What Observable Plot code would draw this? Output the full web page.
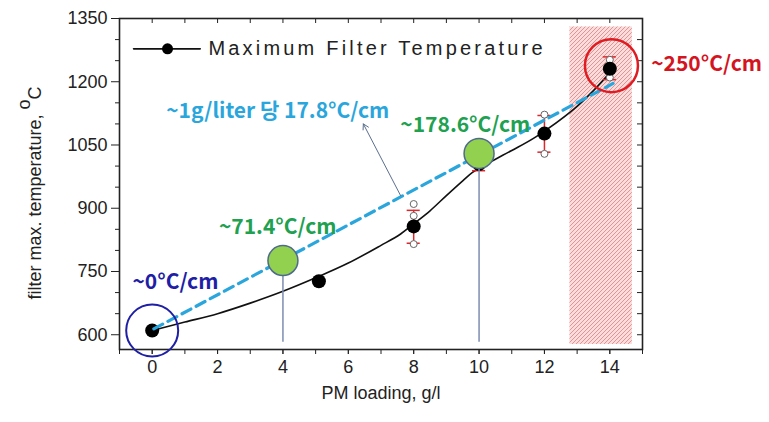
<!DOCTYPE html>
<html><head><meta charset="utf-8">
<script src="https://cdn.jsdelivr.net/npm/d3@7"></script>
<script src="https://cdn.jsdelivr.net/npm/@observablehq/plot@0.6"></script>
<style>body{margin:0;background:#fff}</style>
</head><body><div id="chart"></div>
<script>
// ---- data ----
const xTicks = [0, 2, 4, 6, 8, 10, 12, 14];
const yTicks = [600, 750, 900, 1050, 1200, 1350];

const pmLoading = [0, 5.1, 8, 10, 12, 14];
const maxTemp   = [610, 727, 857, 1005, 1077, 1231];

const errX    = [8, 10, 12, 14];
const errLow  = [817, 989, 1033, 1205];
const errHigh = [895, 1025, 1120, 1259];

const openX = [8, 8, 8, 12, 12, 14, 14];
const openY = [910, 882, 815, 1122, 1029, 1252, 1210];

const fitX = [0, 1, 2, 3, 4, 5, 6, 7, 7.6, 8, 8.5, 9, 9.5, 9.8, 10.4, 11, 11.75, 12.9, 13.5, 14.1];
const fitY = [610, 630, 650, 675, 703, 735, 770, 812, 839, 863, 894, 930, 965, 985, 1012, 1037, 1070, 1135, 1179, 1230];

const trendX = [0.05, 14.1];
const trendY = [614, 1196];

const rateX = [4, 10];
const rateY = [776, 1030];
const rateBase = 582;

const hatchX = [12.78, 14.69];
const hatchY = [577, 1330];

const labelText = ["~0°C/cm", "~71.4°C/cm", "~178.6°C/cm", "~1g/liter 당 17.8°C/cm", "~250°C/cm"];
const labelX = [0.71, 3.84, 9.58, 3.84, 16.96];
const labelY = [725, 855, 1096, 1131, 1242];
const labelColor = ["#1f1fa6", "#20a14f", "#20a14f", "#2aa6dc", "#d4141e"];

const arrowFrom = [7.6, 930];
const arrowTo = [6.46, 1100];

const legendLineX = [-0.57, 1.47];
const legendDotX = 0.47;
const legendY = 1278;
const legendTextX = 1.72;

// ---- layout ----
const W = 769, H = 422, mL = 119, mR = 127, mT = 18, mB = 73;
const plotW = W - mL - mR, plotH = H - mT - mB;

const points = pmLoading.map((x, i) => ({x, y: maxTemp[i]}));
const errs = errX.map((x, i) => ({x, lo: errLow[i], hi: errHigh[i]}));
const caps = errs.flatMap(d => [{x: d.x, y: d.lo}, {x: d.x, y: d.hi}]);
const opens = openX.map((x, i) => ({x, y: openY[i]}));
const fit = fitX.map((x, i) => ({x, y: fitY[i]}));
const trend = trendX.map((x, i) => ({x, y: trendY[i]}));
const rates = rateX.map((x, i) => ({x, y: rateY[i]}));
const labels = labelText.map((t, i) => ({t, x: labelX[i], y: labelY[i], c: labelColor[i]}));
const xMinor = d3.range(-1, 16, 1);
const yMinorAll = d3.range(600, 1351, 50);
const yMinor = yMinorAll.filter(v => !yTicks.includes(v));

const chart = Plot.plot({
  width: W, height: H,
  marginLeft: mL, marginRight: mR, marginTop: mT, marginBottom: mB,
  style: {fontFamily: "'Liberation Sans', Arial, sans-serif", fontSize: "18px", background: "white", color: "#222"},
  x: {domain: [-1, 15]},
  y: {domain: [565, 1350]},
  marks: [
    Plot.rect([0], {x1: hatchX[0], x2: hatchX[1], y1: hatchY[0], y2: hatchY[1], fill: "url(#hatch)"}),
    Plot.axisX({ticks: xTicks, tickSize: 5, tickPadding: 6, label: null, tickFormat: "d"}),
    Plot.tickX(xMinor, {x: d => d, insetTop: plotH, insetBottom: -5}),
    Plot.tickX(xMinor, {x: d => d, insetBottom: plotH - 5}),
    Plot.axisY({ticks: yTicks, tickSize: 8, tickPadding: 4, label: null, tickFormat: "d"}),
    Plot.tickY(yMinor, {y: d => d, insetRight: plotW, insetLeft: -4}),
    Plot.tickY(yMinorAll, {y: d => d, insetLeft: plotW - 5}),
    Plot.frame({strokeWidth: 1.6}),
    Plot.text(["PM loading, g/l"], {frameAnchor: "bottom", dy: 49, fontSize: 18, fill: "#222"}),
    Plot.text(["filter max. temperature, "], {frameAnchor: "left", textAnchor: "middle", dx: -84, dy: 9, rotate: -90, fontSize: 18, fill: "#222"}),
    // fitted curve
    Plot.line(fit, {x: "x", y: "y", curve: "catmull-rom", stroke: "#111", strokeWidth: 1.6}),
    // error bars
    Plot.ruleX(errs, {x: "x", y1: "lo", y2: "hi", stroke: "#e0262a", strokeWidth: 1.5}),
    Plot.ruleY(caps, {y: "y", x1: d => d.x - 0.2, x2: d => d.x + 0.2, stroke: "#e0262a", strokeWidth: 1.5}),
    Plot.dot(opens, {x: "x", y: "y", r: 3.5, stroke: "#666", fill: "white", strokeWidth: 1}),
    Plot.dot(points, {x: "x", y: "y", r: 7, fill: "black"}),
    // trend dashed line
    Plot.line(trend, {x: "x", y: "y", stroke: "#2aa6dc", strokeWidth: 3.2, strokeDasharray: "10,6"}),
    // vertical guide lines + green markers
    Plot.ruleX(rates, {x: "x", y1: rateBase, y2: "y", stroke: "#7c8db0", strokeWidth: 1.5}),
    Plot.dot(rates, {x: "x", y: "y", r: 15, fill: "#92d050", stroke: "#4f6b8c", strokeWidth: 1.5}),
    // highlight circles
    Plot.dot([points[0]], {x: "x", y: "y", r: 26, stroke: "#1f1fa6", strokeWidth: 2, fill: "none"}),
    Plot.dot([{x: 14.05, y: 1238}], {x: "x", y: "y", r: 26.5, stroke: "#e01b22", strokeWidth: 2.5, fill: "none"}),
    // arrow
    Plot.arrow([0], {x1: arrowFrom[0], y1: arrowFrom[1], x2: arrowTo[0], y2: arrowTo[1], stroke: "#5b6f8f", strokeWidth: 1, headLength: 9, bend: 0}),
    // legend
    Plot.line(legendLineX.map(x => ({x, y: legendY})), {x: "x", y: "y", stroke: "#111", strokeWidth: 1.6}),
    Plot.dot([{x: legendDotX, y: legendY}], {x: "x", y: "y", r: 5.5, fill: "black"}),
    Plot.text(["Maximum Filter Temperature"], {x: legendTextX, y: legendY, textAnchor: "start", fontSize: 20, fill: "#222"}),
    // annotations
    ...labels.map(d => Plot.text([d], {x: "x", y: "y", text: "t", fill: d.c, fontWeight: "bold", fontSize: 21,
      fontFamily: "'Noto Sans CJK KR', 'Noto Sans', sans-serif"}))
  ]
});

// hatch pattern
const defs = d3.select(chart).insert("defs", ":first-child");
const pat = defs.append("pattern").attr("id", "hatch").attr("patternUnits", "userSpaceOnUse").attr("width", 4).attr("height", 4);
pat.append("rect").attr("width", 4).attr("height", 4).attr("fill", "#f9dcdc");
pat.append("path").attr("d", "M-1,1 l2,-2 M0,4 l4,-4 M3,5 l2,-2").attr("stroke", "#e07f7f").attr("stroke-width", 0.8);

d3.select(chart).selectAll("text").each(function() {
  const s = this.textContent;
  if (s.startsWith("filter max")) {
    const t = d3.select(this);
    t.append("tspan").attr("dy", "-0.6em").text("o");
    t.append("tspan").attr("dy", "0.6em").text("C");
  } else if (s === "Maximum Filter Temperature") {
    d3.select(this).attr("letter-spacing", "3.2px");
  }
});

document.getElementById("chart").append(chart);
</script>
</body></html>
